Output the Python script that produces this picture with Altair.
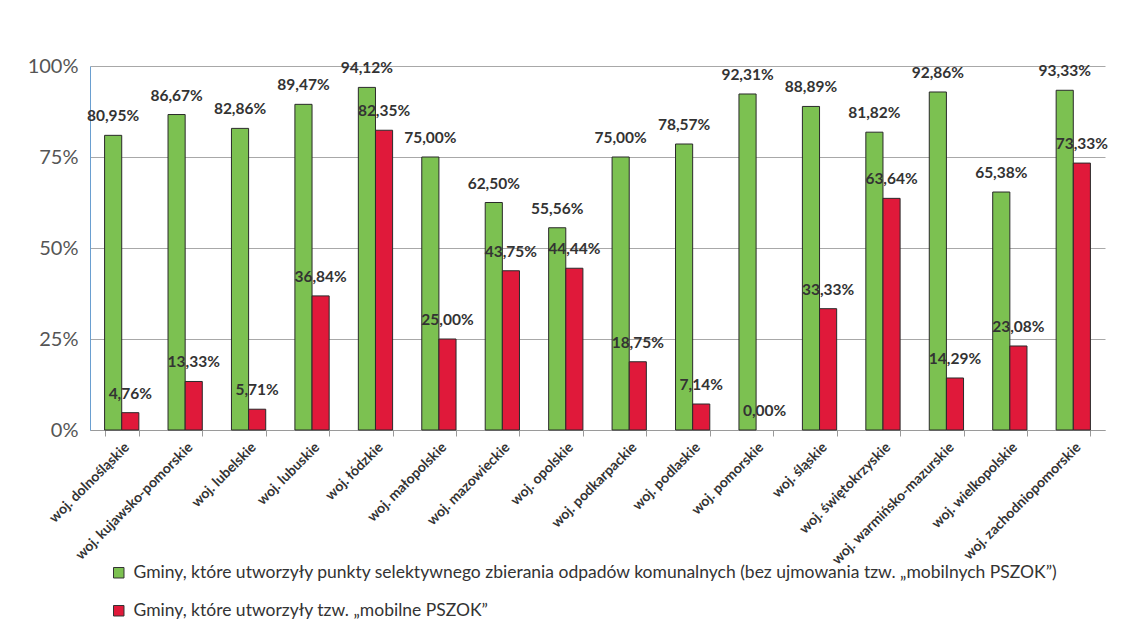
import altair as alt
import pandas as pd

categories = ["woj. dolnośląskie", "woj. kujawsko-pomorskie", "woj. lubelskie", "woj. lubuskie",
              "woj. łódzkie", "woj. małopolskie", "woj. mazowieckie", "woj. opolskie",
              "woj. podkarpackie", "woj. podlaskie", "woj. pomorskie", "woj. śląskie",
              "woj. świętokrzyskie", "woj. warmińsko-mazurskie", "woj. wielkopolskie",
              "woj. zachodniopomorskie"]
green_vals = [80.95, 86.67, 82.86, 89.47, 94.12, 75.00, 62.50, 55.56, 75.00, 78.57, 92.31, 88.89,
              81.82, 92.86, 65.38, 93.33]
red_vals = [4.76, 13.33, 5.71, 36.84, 82.35, 25.00, 43.75, 44.44, 18.75, 7.14, 0.00, 33.33,
            63.64, 14.29, 23.08, 73.33]
series = ["Gminy, które utworzyły punkty selektywnego zbierania odpadów komunalnych (bez ujmowania tzw. „mobilnych PSZOK”)",
          "Gminy, które utworzyły tzw. „mobilne PSZOK”"]
colors = ["#7cc151", "#e0193a"]

rows = []
for i, c in enumerate(categories):
    for s, vals in zip(series, [green_vals, red_vals]):
        v = vals[i]
        rows.append({"cat": c, "series": s, "value": v / 100.0,
                     "label": f"{v:.2f}".replace(".", ",") + "%"})
df = pd.DataFrame(rows)

FONT = "Lato"

x = alt.X("cat:N", sort=categories, title=None,
          scale=alt.Scale(paddingInner=0.46, paddingOuter=0.23),
          axis=alt.Axis(labelAngle=-45, labelFontSize=14, labelFontWeight="bold",
                        labelColor="#333333", tickBand="extent", tickSize=6, grid=False,
                        tickColor="#9a9a9a", domainColor="#9a9a9a", labelPadding=4,
                        labelFont=FONT))
xoff = alt.XOffset("series:N", sort=series)

yax = alt.Axis(values=[0, 0.25, 0.5, 0.75, 1], format=".0%", labelFontSize=20,
               labelColor="#555555", grid=True, gridColor="#a8a8a8",
               domainColor="#6a9fd0", ticks=False, labelPadding=12,
               labelFont=FONT)
y = alt.Y("value:Q", title=None, scale=alt.Scale(domain=[0, 1], nice=False), axis=yax)

base = alt.Chart(df)

bars = base.mark_bar(stroke="#2a2a2a", strokeWidth=1).encode(
    x=x, xOffset=xoff, y=y,
    strokeOpacity=alt.condition(alt.datum.value > 0, alt.value(1), alt.value(0)),
    color=alt.Color("series:N", sort=series, scale=alt.Scale(domain=series, range=colors),
                    legend=alt.Legend(title=None, orient="none", legendX=20, legendY=498,
                                      direction="vertical", symbolType="square",
                                      symbolSize=110, symbolStrokeColor="#333333",
                                      symbolStrokeWidth=1, labelFontSize=17.5,
                                      labelColor="#333333", labelLimit=1100,
                                      rowPadding=19, labelFont=FONT, labelOffset=6)),
)

labels = base.mark_text(baseline="bottom", dy=-11, fontSize=15.5, fontWeight="bold",
                        color="#333333", font=FONT).encode(
    x=x, xOffset=xoff, y=y, text="label:N")

chart = alt.layer(bars, labels).properties(
    width=1015, height=364,
    background="white",
    autosize=alt.AutoSizeParams(type="none"),
    padding={"left": 82, "top": 58, "right": 8, "bottom": 192},
).configure_view(stroke="transparent", strokeWidth=0)

chart.save("out.html", embed_options={"renderer": "svg", "actions": False})
